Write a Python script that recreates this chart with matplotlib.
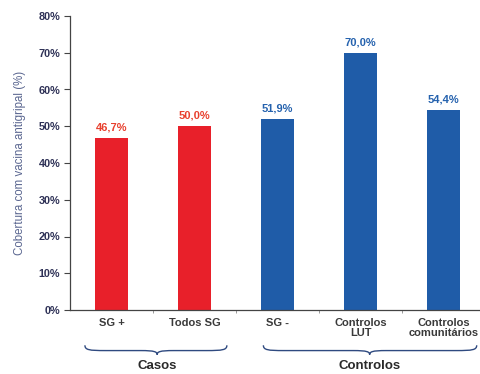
import matplotlib
matplotlib.use("Agg")
import matplotlib.pyplot as plt
from matplotlib.path import Path
from matplotlib.patches import PathPatch
import matplotlib.transforms as mtransforms

plt.rcParams['font.family'] = ['Liberation Sans', 'DejaVu Sans']

categories = ["SG +", "Todos SG", "SG -", "Controlos\nLUT", "Controlos\ncomunitários"]
values = [46.7, 50.0, 51.9, 70.0, 54.4]
groups = ["Casos", "Casos", "Controlos", "Controlos", "Controlos"]
yticks = [0, 10, 20, 30, 40, 50, 60, 70, 80]

red = "#E8202A"
blue = "#1F5CA8"
label_red = "#E8402E"
label_blue = "#2562AE"
colors = [red if g == "Casos" else blue for g in groups]
label_colors = [label_red if g == "Casos" else label_blue for g in groups]

fig = plt.figure(figsize=(4.8, 3.74), dpi=100)
ax = fig.add_axes([70 / 480, 64 / 374, 415 / 480, 294 / 374])

x = list(range(len(categories)))
ax.bar(x, values, width=0.4, color=colors, edgecolor="none", zorder=2)
for xi, v, c in zip(x, values, label_colors):
    ax.annotate(f"{v:.1f}%".replace(".", ","), (xi, v), xytext=(0, 4),
                textcoords="offset points", ha="center", va="bottom",
                fontsize=8, fontweight="bold", color=c)

ax.set_xlim(-0.5, len(categories) - 0.5)
ax.set_ylim(0, 80)
ax.set_yticks(yticks)
ax.set_yticklabels([f"{t}%" for t in yticks], fontsize=7.8, fontweight="bold", color="#2E3156")
ax.set_xticks(x)
ax.set_xticklabels(categories, fontsize=8, fontweight="bold", color="#3A3A3A",
                   linespacing=1.0, multialignment="center")
ax.set_xticks([i + 0.5 for i in range(len(categories) - 1)], minor=True)
ax.tick_params(axis="x", which="major", length=0, pad=6)
ax.tick_params(axis="x", which="minor", length=2, color="#888888", direction="out")
ax.tick_params(axis="y", length=4, color="#444444", pad=3)
for s in ["top", "right"]:
    ax.spines[s].set_visible(False)
for s in ["left", "bottom"]:
    ax.spines[s].set_color("#444444")
    ax.spines[s].set_linewidth(0.9)

ax.set_ylabel("Cobertura com vacina antigripal (%)", fontsize=8.3, color="#5A6690", labelpad=9)

trans = mtransforms.blended_transform_factory(ax.transData, ax.transAxes)


def brace(x0, x1, xm, yt, ym, yb):
    verts = [
        (x0, yt),
        (x0, ym + 0.002), (x0 + 0.05, ym), (x0 + 0.25, ym),
        (xm - 0.2, ym),
        (xm - 0.03, ym), (xm, ym - 0.004), (xm, yb),
        (xm, ym - 0.004), (xm + 0.03, ym), (xm + 0.2, ym),
        (x1 - 0.25, ym),
        (x1 - 0.05, ym), (x1, ym + 0.002), (x1, yt),
    ]
    codes = [Path.MOVETO,
             Path.CURVE4, Path.CURVE4, Path.CURVE4,
             Path.LINETO,
             Path.CURVE4, Path.CURVE4, Path.CURVE4,
             Path.CURVE4, Path.CURVE4, Path.CURVE4,
             Path.LINETO,
             Path.CURVE4, Path.CURVE4, Path.CURVE4]
    p = PathPatch(Path(verts, codes), fill=False, edgecolor="#2F4A80", lw=1.0,
                  transform=trans, clip_on=False)
    ax.add_patch(p)


brace(-0.32, 1.39, 0.55, -0.12, -0.138, -0.152)
brace(1.83, 4.4, 3.11, -0.12, -0.138, -0.152)
ax.text(0.55, -0.19, "Casos", transform=trans, ha="center", va="center",
        fontsize=9.5, fontweight="bold", color="#2A2A2A")
ax.text(3.11, -0.19, "Controlos", transform=trans, ha="center", va="center",
        fontsize=9.5, fontweight="bold", color="#2A2A2A")

fig.savefig("out.png", dpi=100)
